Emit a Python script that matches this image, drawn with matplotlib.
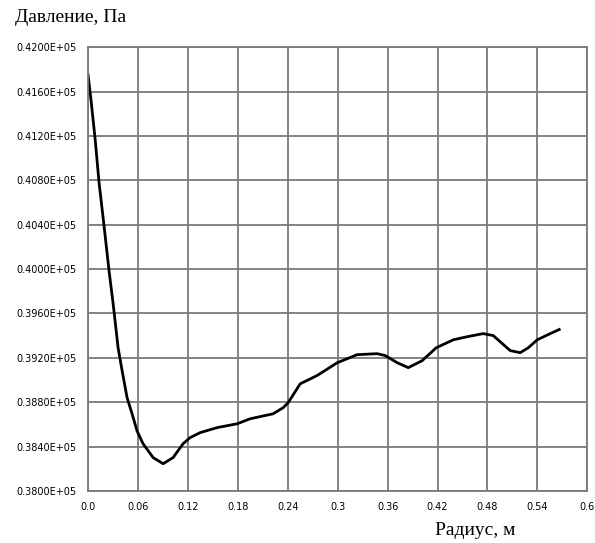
import matplotlib
matplotlib.use("Agg")
import matplotlib.pyplot as plt
import numpy as np

# radius, m
radius = [0.0, 0.0036, 0.0084, 0.0132, 0.0192, 0.0252, 0.0301, 0.0361, 0.0409,
          0.0469, 0.0529, 0.0589, 0.0661, 0.0782, 0.0902, 0.1022, 0.1142,
          0.1226, 0.1347, 0.155, 0.1792,
          0.1948, 0.2224, 0.2345, 0.2405, 0.2549, 0.2753, 0.2994, 0.3234,
          0.3475, 0.3571, 0.3715, 0.3848, 0.4016, 0.4184, 0.4389, 0.4557,
          0.4749, 0.487, 0.5074, 0.5194, 0.529, 0.5399, 0.5555, 0.5663]
# pressure, Pa
pressure = [41750, 41520, 41180, 40780, 40390, 39985, 39690, 39290, 39085,
            38840, 38695, 38540, 38425, 38300, 38245, 38300, 38425,
            38480, 38525, 38570, 38605,
            38650, 38695, 38750, 38795, 38965, 39040, 39155, 39228,
            39237, 39220, 39156, 39111, 39174, 39290, 39362, 39390,
            39418, 39400, 39265, 39246, 39290, 39362, 39418, 39455]

xticks = np.round(np.arange(0, 0.61, 0.06), 2)
xlabels = ["0.0", "0.06", "0.12", "0.18", "0.24", "0.3", "0.36", "0.42", "0.48", "0.54", "0.6"]
yticks = np.arange(38000, 42001, 400)
ylabels = ["0.%dE+05" % (v // 10) for v in yticks]

fig = plt.figure(figsize=(5.95, 5.43), dpi=100)
ax = fig.add_axes([0.148, 0.096, 0.839, 0.817])

ax.plot(radius, pressure, color="black", lw=2, solid_joinstyle="round")

ax.set_xlim(0, 0.6)
ax.set_ylim(38000, 42000)
ax.set_xticks(xticks)
ax.set_xticklabels(xlabels, fontsize=7)
ax.set_yticks(yticks)
ax.set_yticklabels(ylabels, fontsize=7)
ax.tick_params(length=0, pad=8)
ax.grid(True, color="#7a7a7a", lw=1.3)
for s in ax.spines.values():
    s.set_color("#7a7a7a")
    s.set_linewidth(1.3)

fig.text(15 / 595, 1 - 22 / 543, "Давление, Па", family="Liberation Serif",
         fontsize=14, ha="left", va="baseline")
fig.text(435 / 595, 1 - 535 / 543, "Радиус, м", family="Liberation Serif",
         fontsize=14, ha="left", va="baseline")

fig.savefig("out.png", dpi=100)
